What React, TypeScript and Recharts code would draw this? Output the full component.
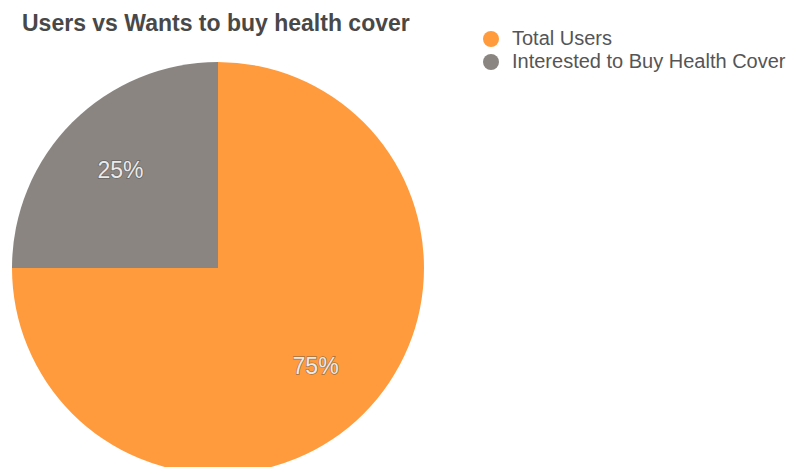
import React from 'react';
import { PieChart, Pie, Cell } from 'recharts';

const categories = ['Total Users', 'Interested to Buy Health Cover'];
const shares = [75, 25];
const colors = ['#FF9B3D', '#8A8580'];
const title = 'Users vs Wants to buy health cover';

const data = categories.map((name, i) => ({ name, value: shares[i] }));
const FONT = 'Liberation Sans, Arial, sans-serif';

const RAD = Math.PI / 180;
const renderLabel = (props: any) => {
  const { cx, cy, midAngle, outerRadius, value } = props;
  const r = outerRadius * 0.67;
  const x = cx + r * Math.cos(-midAngle * RAD);
  const y = cy + r * Math.sin(-midAngle * RAD);
  return (
    <text
      x={x}
      y={y}
      fill="#EAEAEA"
      textAnchor="middle"
      dominantBaseline="central"
      fontSize={23}
      fontFamily={FONT}
      style={{ paintOrder: 'stroke', stroke: 'rgba(70,70,70,0.5)', strokeWidth: 1.5 }}
    >
      {value}%
    </text>
  );
};

export default function App() {
  return (
    <div style={{ position: 'absolute', left: 0, top: 0, width: 792, height: 467, background: '#fff', overflow: 'hidden' }}>
      <div
        style={{
          position: 'absolute',
          left: 22,
          top: 10,
          fontFamily: FONT,
          fontWeight: 'bold',
          fontSize: 23,
          color: '#484848',
          whiteSpace: 'nowrap',
        }}
      >
        {title}
      </div>
      <div style={{ position: 'absolute', left: 483, top: 27, fontFamily: FONT, fontSize: 20, color: '#555' }}>
        {data.map((d, i) => (
          <div key={d.name} style={{ display: 'flex', alignItems: 'center', height: 23, whiteSpace: 'nowrap' }}>
            <span
              style={{
                display: 'inline-block',
                width: 16,
                height: 16,
                borderRadius: 8,
                background: colors[i],
                marginRight: 13,
              }}
            />
            <span>{d.name}</span>
          </div>
        ))}
      </div>
      <PieChart width={792} height={467} margin={{ top: 0, right: 0, bottom: 0, left: 0 }}>
        <Pie
          data={data}
          dataKey="value"
          nameKey="name"
          cx={218}
          cy={268}
          outerRadius={206}
          startAngle={90}
          endAngle={-270}
          stroke="none"
          label={renderLabel}
          labelLine={false}
          isAnimationActive={false}
        >
          {data.map((d, i) => (
            <Cell key={d.name} fill={colors[i]} />
          ))}
        </Pie>
      </PieChart>
    </div>
  );
}
